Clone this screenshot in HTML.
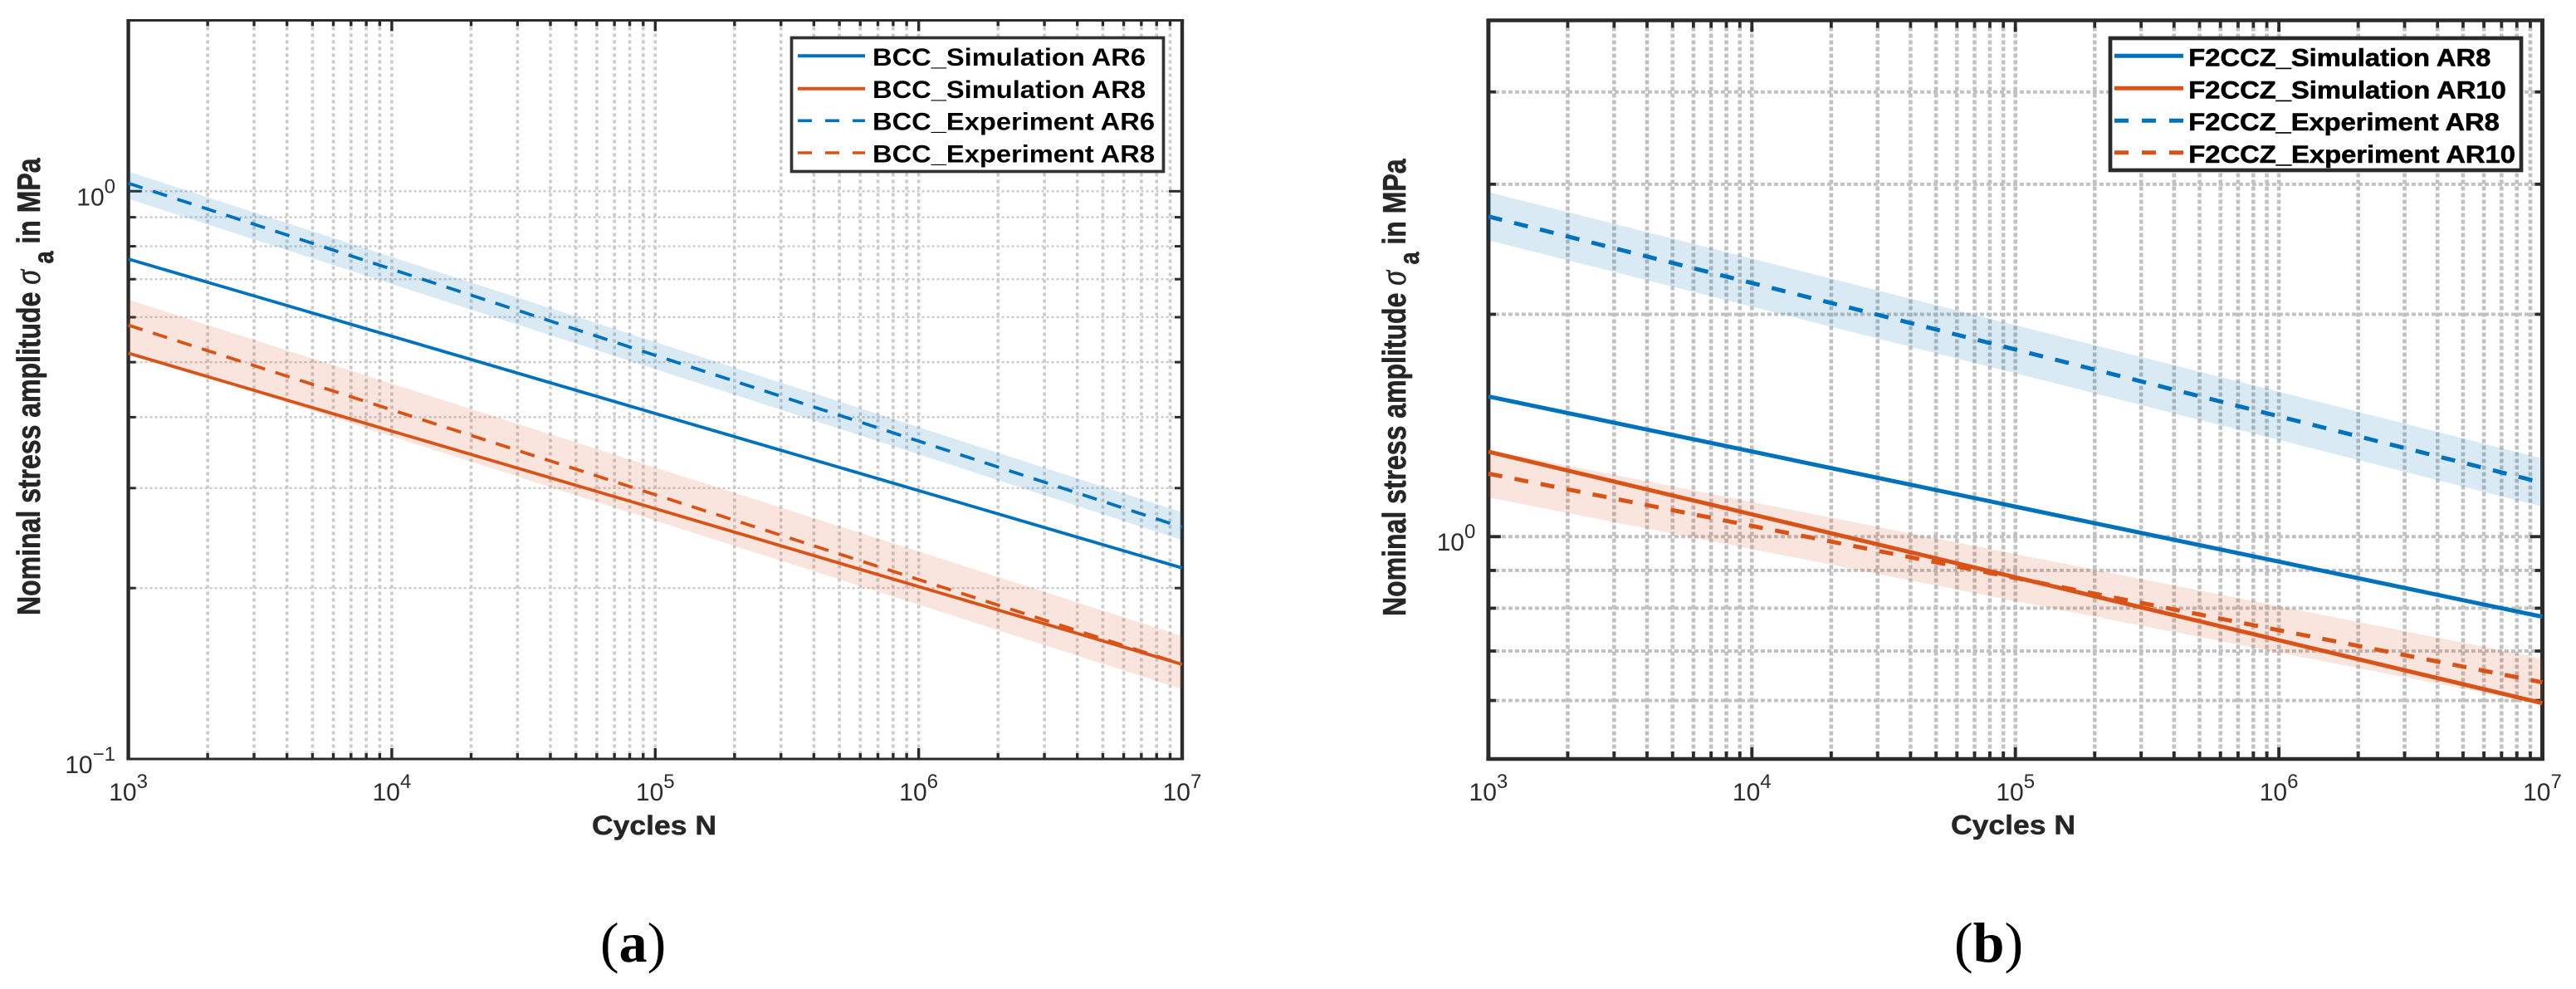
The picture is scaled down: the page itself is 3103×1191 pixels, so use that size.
<!DOCTYPE html>
<html lang="en">
<head>
<meta charset="utf-8">
<title>Nominal stress amplitude vs cycles: BCC and F2CCZ</title>
<style>
html,body{margin:0;padding:0;background:#fff;}
svg{display:block;}
text{font-family:"Liberation Sans",Arial,sans-serif;}
.tick-label{font-size:30px;fill:#2b2b2b;}
.axis-title{font-size:32px;font-weight:700;fill:#262626;stroke:#262626;stroke-width:0.5px;}
.legend-text{font-size:30px;font-weight:700;fill:#000;}
.caption{font-family:"Liberation Serif",serif;font-size:68px;fill:#000;}
</style>
</head>
<body>
<svg id="figure" xmlns="http://www.w3.org/2000/svg" width="3103" height="1191" viewBox="0 0 3103 1191">
  <rect x="0" y="0" width="3103" height="1191" fill="#fff"/>

  <g id="panel-a"></g>

  <text class="axis-title" x="713" y="1005" textLength="150" lengthAdjust="spacingAndGlyphs">Cycles N</text>
  <text class="axis-title" xml:space="preserve" transform="translate(48,741) rotate(-90) scale(1,1.22)">Nominal stress amplitude <tspan font-family="Liberation Serif" font-style="italic" font-weight="400" font-size="36">σ</tspan><tspan dy="13" font-size="27"> a</tspan><tspan dy="-13"> in MPa</tspan></text>

  <g>
    <rect x="953.5" y="45.5" width="448" height="161" fill="#fff" stroke="#333" stroke-width="3.7"/>
    <line x1="961" x2="1042" y1="67.3" y2="67.3" stroke="#0072BD" stroke-width="4"/>
    <text class="legend-text" x="1051" y="79" textLength="329" lengthAdjust="spacingAndGlyphs">BCC_Simulation AR6</text>
    <line x1="961" x2="1042" y1="106.7" y2="106.7" stroke="#D95319" stroke-width="4"/>
    <text class="legend-text" x="1051" y="118" textLength="329" lengthAdjust="spacingAndGlyphs">BCC_Simulation AR8</text>
    <line x1="961" x2="1042" y1="145.3" y2="145.3" stroke="#0072BD" stroke-width="3.6" stroke-dasharray="17 16"/>
    <text class="legend-text" x="1051" y="156.7" textLength="340" lengthAdjust="spacingAndGlyphs">BCC_Experiment AR6</text>
    <line x1="961" x2="1042" y1="184" y2="184" stroke="#D95319" stroke-width="3.6" stroke-dasharray="17 16"/>
    <text class="legend-text" x="1051" y="195.3" textLength="340" lengthAdjust="spacingAndGlyphs">BCC_Experiment AR8</text>
  </g>

  <g id="panel-b"></g>

  <text class="axis-title" x="2350" y="1004.5" textLength="150" lengthAdjust="spacingAndGlyphs">Cycles N</text>
  <text class="axis-title" xml:space="preserve" transform="translate(1693,742) rotate(-90) scale(1,1.22)">Nominal stress amplitude <tspan font-family="Liberation Serif" font-style="italic" font-weight="400" font-size="36">σ</tspan><tspan dy="13" font-size="27"> a</tspan><tspan dy="-13"> in MPa</tspan></text>

  <g>
    <rect x="2542" y="46" width="495" height="159" fill="#fff" stroke="#2b2b2b" stroke-width="4.7"/>
    <line x1="2547" x2="2630" y1="67.3" y2="67.3" stroke="#0072BD" stroke-width="5"/>
    <text class="legend-text" stroke="#000" stroke-width="0.6" x="2636.3" y="79.3" textLength="364" lengthAdjust="spacingAndGlyphs">F2CCZ_Simulation AR8</text>
    <line x1="2547" x2="2630" y1="106.3" y2="106.3" stroke="#D95319" stroke-width="5"/>
    <text class="legend-text" stroke="#000" stroke-width="0.6" x="2636.3" y="118.3" textLength="382.5" lengthAdjust="spacingAndGlyphs">F2CCZ_Simulation AR10</text>
    <line x1="2547" x2="2630" y1="145.3" y2="145.3" stroke="#0072BD" stroke-width="5" stroke-dasharray="17 16"/>
    <text class="legend-text" stroke="#000" stroke-width="0.6" x="2636.3" y="157" textLength="374.5" lengthAdjust="spacingAndGlyphs">F2CCZ_Experiment AR8</text>
    <line x1="2547" x2="2630" y1="183.7" y2="183.7" stroke="#D95319" stroke-width="5" stroke-dasharray="17 16"/>
    <text class="legend-text" stroke="#000" stroke-width="0.6" x="2636.3" y="196" textLength="393.7" lengthAdjust="spacingAndGlyphs">F2CCZ_Experiment AR10</text>
  </g>

  <text class="caption" x="723" y="1158">(<tspan font-weight="700">a</tspan>)</text>
  <text class="caption" x="2354" y="1158">(<tspan font-weight="700">b</tspan>)</text>
</svg>

<script>
// Shared x data
const cycles = [1e3, 1e4, 1e5, 1e6, 1e7];
const xTickExponents = [3, 4, 5, 6, 7];
const xMinorMultipliers = [2, 3, 4, 5, 6, 7, 8, 9];

// Panel (a): BCC
const aYTicks = [0.2, 0.3, 0.4, 0.5, 0.6, 0.7, 0.8, 0.9, 1];
const aYTickExponents = [-1, 0];
const aSimAR6 = [0.7596, 0.5554, 0.406, 0.297, 0.217];
const aSimAR8 = [0.5186, 0.378, 0.276, 0.2012, 0.1468];
const aExpAR6 = [1.033, 0.729, 0.514, 0.363, 0.256];
const aExpAR8 = [0.581, 0.412, 0.292, 0.207, 0.1468];
const aBandAR6Upper = [1.083, 0.766, 0.5425, 0.384, 0.272];
const aBandAR6Lower = [0.97, 0.6866, 0.486, 0.344, 0.243];
const aBandAR8Upper = [0.644, 0.458, 0.326, 0.232, 0.1646];
const aBandAR8Lower = [0.521, 0.37, 0.263, 0.187, 0.1327];

// Panel (b): F2CCZ
const bYTicks = [0.6, 0.7, 0.8, 0.9, 1, 2, 3, 4];
const bYTickExponents = [0];
const bSimAR8 = [1.548, 1.304, 1.098, 0.925, 0.779];
const bSimAR10 = [1.303, 1.072, 0.881, 0.724, 0.595];
const bExpAR8 = [2.713, 2.205, 1.792, 1.455, 1.183];
const bExpAR10 = [1.217, 1.034, 0.879, 0.747, 0.635];
const bBandAR8Upper = [2.927, 2.379, 1.933, 1.571, 1.276];
const bBandAR8Lower = [2.52, 2.048, 1.664, 1.352, 1.098];
const bBandAR10Upper = [1.31, 1.114, 0.947, 0.805, 0.684];
const bBandAR10Lower = [1.13, 0.962, 0.818, 0.697, 0.593];

const BLUE = '#0072BD';
const ORANGE = '#D95319';
const AXIS = '#2b2b2b';
const NS = 'http://www.w3.org/2000/svg';

function drawPanel(group, cfg, yTicks, yExponents, bands, lines) {
  const scaleX = n => cfg.left + (Math.log10(n) - 3) / 4 * (cfg.right - cfg.left);
  const scaleY = v => cfg.bottom - (Math.log10(v) - Math.log10(cfg.yMin)) /
    (Math.log10(cfg.yMax) - Math.log10(cfg.yMin)) * (cfg.bottom - cfg.top);

  function addLine(x1, y1, x2, y2, stroke, width, dash, name) {
    const el = document.createElementNS(NS, 'line');
    el.setAttribute('x1', x1);
    el.setAttribute('y1', y1);
    el.setAttribute('x2', x2);
    el.setAttribute('y2', y2);
    el.setAttribute('stroke', stroke);
    el.setAttribute('stroke-width', width);
    if (dash) el.setAttribute('stroke-dasharray', dash);
    
    
    group.appendChild(el);
  }

  function addTickLabel(x, y, anchor, exponent, name) {
    const el = document.createElementNS(NS, 'text');
    el.setAttribute('class', 'tick-label');
    el.setAttribute('x', x);
    el.setAttribute('y', y);
    el.setAttribute('text-anchor', anchor);
    
    
    el.appendChild(document.createTextNode('10'));
    const sup = document.createElementNS(NS, 'tspan');
    sup.setAttribute('dy', '-15');
    sup.setAttribute('font-size', '24');
    sup.textContent = String(exponent).replace('-', '\u2212');
    el.appendChild(sup);
    group.appendChild(el);
  }

  // x grid + ticks positions
  const xMajors = xTickExponents.map(e => Math.pow(10, e));
  const xMinors = [];
  xMajors.slice(0, -1).forEach(d => xMinorMultipliers.forEach(m => xMinors.push(d * m)));

  // grid
  xMinors.concat(xMajors.slice(1, -1)).forEach(n => {
    addLine(scaleX(n), cfg.top + 8, scaleX(n), cfg.bottom, cfg.gridColor, cfg.gridV, cfg.gridVDash, 'x-grid-line');
  });
  yTicks.forEach(v => {
    addLine(cfg.left + 8, scaleY(v), cfg.right, scaleY(v), cfg.gridColor, cfg.gridH, cfg.gridHDash, 'y-grid-line');
  });

  // x ticks (top and bottom)
  xMinors.forEach(n => {
    addLine(scaleX(n), cfg.bottom, scaleX(n), cfg.bottom - cfg.minorLen, AXIS, cfg.tickW, null, 'x-minor-tick');
    addLine(scaleX(n), cfg.top, scaleX(n), cfg.top + cfg.minorLen, AXIS, cfg.tickW, null, 'x-minor-tick');
  });
  xMajors.slice(1, -1).forEach(n => {
    addLine(scaleX(n), cfg.bottom, scaleX(n), cfg.bottom - cfg.majorLen, AXIS, cfg.tickW, null, 'x-major-tick');
    addLine(scaleX(n), cfg.top, scaleX(n), cfg.top + cfg.majorLen, AXIS, cfg.tickW, null, 'x-major-tick');
  });

  // y ticks (left and right)
  yTicks.forEach(v => {
    const major = Math.abs(Math.log10(v) - Math.round(Math.log10(v))) < 1e-9;
    const len = major ? cfg.majorLenY : cfg.minorLenY;
    addLine(cfg.left, scaleY(v), cfg.left + len, scaleY(v), AXIS, cfg.tickWY, null, 'y-tick');
    addLine(cfg.right, scaleY(v), cfg.right - len, scaleY(v), AXIS, cfg.tickWY, null, 'y-tick');
  });

  // axes box
  addLine(cfg.left, cfg.top, cfg.left, cfg.bottom, AXIS, cfg.spineV, null, 'y-axis-line');
  addLine(cfg.right, cfg.top, cfg.right, cfg.bottom, AXIS, cfg.spineV, null, 'right-axis-line');
  addLine(cfg.left - cfg.spineV / 2, cfg.top, cfg.right + cfg.spineV / 2, cfg.top, AXIS, cfg.spineH, null, 'top-axis-line');
  addLine(cfg.left - cfg.spineV / 2, cfg.bottom, cfg.right + cfg.spineV / 2, cfg.bottom, AXIS, cfg.spineH, null, 'x-axis-line');

  // tick labels
  xTickExponents.forEach(e => {
    addTickLabel(scaleX(Math.pow(10, e)), 964, 'middle', e, 'x-tick-label');
  });
  yExponents.forEach(e => {
    addTickLabel(cfg.left - 15.6, scaleY(Math.pow(10, e)) + 17, 'end', e, 'y-tick-label');
  });

  // scatter bands
  bands.forEach(b => {
    const upper = b.upper.map((v, i) => scaleX(cycles[i]) + ',' + scaleY(v));
    const lower = b.lower.map((v, i) => scaleX(cycles[i]) + ',' + scaleY(v)).reverse();
    const el = document.createElementNS(NS, 'polygon');
    el.setAttribute('points', upper.concat(lower).join(' '));
    el.setAttribute('fill', b.color);
    el.setAttribute('fill-opacity', '0.15');
    
    
    group.appendChild(el);
  });

  // series lines
  lines.forEach(s => {
    const el = document.createElementNS(NS, 'polyline');
    el.setAttribute('points', s.values.map((v, i) => scaleX(cycles[i]) + ',' + scaleY(v)).join(' '));
    el.setAttribute('fill', 'none');
    el.setAttribute('stroke', s.color);
    el.setAttribute('stroke-width', s.dash ? cfg.dashW : cfg.lineW);
    if (s.dash) el.setAttribute('stroke-dasharray', s.dash);
    
    
    group.appendChild(el);
  });
}

drawPanel(document.getElementById('panel-a'), {
  left: 154.6, right: 1424, top: 24.5, bottom: 914, yMin: 0.1, yMax: 2,
  gridColor: '#cacaca', gridV: 3.6, gridVDash: '4 4', gridH: 2.4, gridHDash: '3 3',
  minorLen: 7, majorLen: 13, minorLenY: 9, majorLenY: 16,
  tickW: 3.4, tickWY: 3, spineV: 4.4, spineH: 3, lineW: 3.8, dashW: 3.8
}, aYTicks, aYTickExponents, [
  {upper: aBandAR6Upper, lower: aBandAR6Lower, color: BLUE, name: 'band-bcc-experiment-ar6'},
  {upper: aBandAR8Upper, lower: aBandAR8Lower, color: ORANGE, name: 'band-bcc-experiment-ar8'}
], [
  {values: aSimAR6, color: BLUE, name: 'line-bcc-simulation-ar6'},
  {values: aSimAR8, color: ORANGE, name: 'line-bcc-simulation-ar8'},
  {values: aExpAR6, color: BLUE, dash: '18 13', name: 'line-bcc-experiment-ar6'},
  {values: aExpAR8, color: ORANGE, dash: '18 13', name: 'line-bcc-experiment-ar8'}
]);

drawPanel(document.getElementById('panel-b'), {
  left: 1792.9, right: 3062.5, top: 24.5, bottom: 914, yMin: 0.5, yMax: 5,
  gridColor: '#c1c1c1', gridV: 4.6, gridVDash: '5 3', gridH: 4, gridHDash: '5 3',
  minorLen: 9, majorLen: 14, minorLenY: 9, majorLenY: 15,
  tickW: 3.8, tickWY: 3.8, spineV: 5, spineH: 4.6, lineW: 5, dashW: 5
}, bYTicks, bYTickExponents, [
  {upper: bBandAR8Upper, lower: bBandAR8Lower, color: BLUE, name: 'band-f2ccz-experiment-ar8'},
  {upper: bBandAR10Upper, lower: bBandAR10Lower, color: ORANGE, name: 'band-f2ccz-experiment-ar10'}
], [
  {values: bSimAR8, color: BLUE, name: 'line-f2ccz-simulation-ar8'},
  {values: bSimAR10, color: ORANGE, name: 'line-f2ccz-simulation-ar10'},
  {values: bExpAR8, color: BLUE, dash: '17 15', name: 'line-f2ccz-experiment-ar8'},
  {values: bExpAR10, color: ORANGE, dash: '17 15', name: 'line-f2ccz-experiment-ar10'}
]);
</script>
</body>
</html>
